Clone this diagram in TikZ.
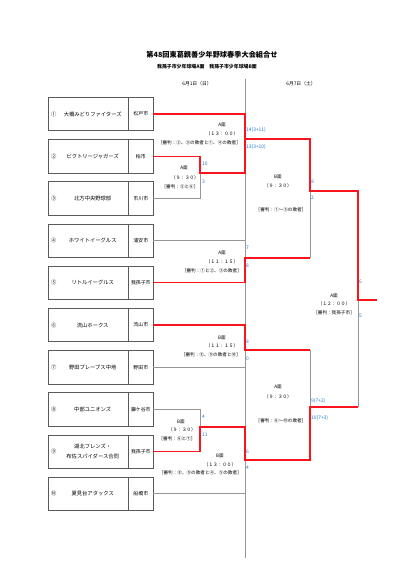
\documentclass[tikz,border=0pt]{standalone}
\usepackage{fontspec}
\setmainfont{Noto Sans CJK JP}
\usetikzlibrary{positioning, calc}

\definecolor{linegray}{RGB}{150,150,150}
\definecolor{winred}{RGB}{250,20,30}
\definecolor{scoreblue}{RGB}{30,120,210}

\tikzset{
    teambox/.style={
        rectangle,
        draw=black!65,
        line width=0.6pt,
        minimum width=105pt,
        minimum height=33.5pt,
        inner sep=0pt
    },
    teamname/.style={font=\fontsize{5.3}{9.5}\selectfont, align=center, inner sep=0pt},
    citytext/.style={font=\fontsize{4.9}{6}\selectfont, inner sep=0pt},
    gline/.style={draw=linegray, line width=0.8pt},
    rline/.style={draw=winred, line width=1.3pt},
    gamelabel/.style={font=\fontsize{4.6}{5}\selectfont, inner sep=0pt},
    score/.style={font=\fontsize{4.9}{5}\selectfont, text=scoreblue, anchor=west, inner sep=0pt}
}

\begin{document}
\begin{tikzpicture}[x=1pt, y=-1pt]
    \useasboundingbox (0,0) rectangle (401,568);

    % 見出し
    \node[font=\bfseries\fontsize{7.2}{8}\selectfont] (title) at (212,55) {第48回東葛親善少年野球春季大会組合せ};
    \node[font=\bfseries\fontsize{4.9}{6}\selectfont] (field) at (207,67) {我孫子市少年球場A面　我孫子市少年球場B面};
    \node[font=\fontsize{4.8}{6}\selectfont] (day1) at (197,84) {6月1日（日）};
    \node[font=\fontsize{4.8}{6}\selectfont] (day2) at (301,84) {6月7日（土）};

    % チーム
    \foreach \i/\mk/\name/\city in {
        1/①/大橋みどりファイターズ/松戸市,
        2/②/ビクトリージャガーズ/柏市,
        3/③/北方中央野球部/市川市,
        4/④/ホワイトイーグルス/浦安市,
        5/⑤/リトルイーグルス/我孫子市,
        6/⑥/流山ホークス/流山市,
        7/⑦/野田ブレーブス中地/野田市,
        8/⑧/中部ユニオンズ/鎌ケ谷市,
        9/⑨/湖北フレンズ・\\布佐スパイダース合同/我孫子市,
        10/⑩/夏見台アタックス/船橋市}{
        \node[teambox] (team\i) at (100.5,{114+42.2*(\i-1)}) {};
        \draw[draw=black!65, line width=0.6pt] ($(team\i.north east)+(-25,0)$) -- ($(team\i.south east)+(-25,0)$);
        \node[teamname] (mark\i) at ($(team\i.west)+(6,0)$) {\mk};
        \node[teamname] (name\i) at ($(team\i.west)+(45,0)$) {\name};
        \node[citytext] (city\i) at ($(team\i.east)+(-12.5,0)$) {\city};
    }

    % 日付の区切り
    \coordinate (sepTop) at (245,79);
    \coordinate (sepBot) at (245,558);
    \draw[gline] (sepTop) -- (sepBot);

    % 試合の分かれ目
    \coordinate (m1) at (200,173);
    \coordinate (m2) at (245,139);
    \coordinate (m3) at (245,258);
    \coordinate (m4) at (245,350);
    \coordinate (m5) at (200,427);
    \coordinate (m6) at (245,460);
    \coordinate (s1) at (310,191);
    \coordinate (s2) at (310,407);
    \coordinate (fin) at (358,300);
    \coordinate (champ) at (377,300);

    % 負け側
    \draw[gline] (team3.east) -| (m1);
    \draw[gline] (team4.east) -- (team4.east -| sepTop);
    \draw[gline] (team7.east) -- (team7.east -| m4);
    \draw[gline] (team8.east) -| (m5);
    \draw[gline] (team10.east) -- (team10.east -| m6);
    \draw[gline] (m3 -| s1) -- (s1);
    \draw[gline] (m4 -| s2) -- (s2);
    \draw[gline] (s2 -| fin) -- (fin);

    % 勝ち上がり
    \draw[rline] (team1.east) -| (m2) -- (m2 -| s1) -- (s1) -- (s1 -| fin) -- (fin) -- (champ);
    \draw[rline] (team2.east) -| (m1) -- (m1 -| m2) -- (m2);
    \draw[rline] (team5.east) -| (m3) -- (m3 -| s1);
    \draw[rline] (team6.east) -| (m4) -- (m4 -| s2);
    \draw[rline] (team9.east) -| (m5) -- (m5 -| m6) -- (m6) -- (m6 -| s2) -- (s2) -- (s2 -| fin);

    % 試合の案内
    \node[gamelabel] (g1a) at (184,168) {A面};
    \node[gamelabel] (g1b) at (185,178) {（９：３０）};
    \node[gamelabel] (g1c) at (180,187) {［審判：⑤と⑥］};

    \node[gamelabel] (g2a) at (222,125) {A面};
    \node[gamelabel] (g2b) at (222,134) {（１３：００）};
    \node[gamelabel, anchor=east] (g2c) at (241,143) {［審判：②、③の敗者と①、④の敗者］};

    \node[gamelabel] (g3a) at (222,253) {A面};
    \node[gamelabel] (g3b) at (222,262) {（１１：１５）};
    \node[gamelabel, anchor=east] (g3c) at (242,271) {［審判：①と②、③の敗者］};

    \node[gamelabel] (g4a) at (222,338) {B面};
    \node[gamelabel] (g4b) at (222,346) {（１１：１５）};
    \node[gamelabel, anchor=east] (g4c) at (241,355) {［審判：⑧、⑨の敗者と⑩］};

    \node[gamelabel] (g5a) at (181,422) {B面};
    \node[gamelabel] (g5b) at (182,430) {（９：３０）};
    \node[gamelabel] (g5c) at (177,439) {［審判：⑥と⑦］};

    \node[gamelabel] (g6a) at (220,456) {B面};
    \node[gamelabel] (g6b) at (220,465) {（１３：００）};
    \node[gamelabel, anchor=east] (g6c) at (242,473) {［審判：⑧、⑨の敗者と④、⑤の敗者］};

    \node[gamelabel] (s1a) at (278,177) {B面};
    \node[gamelabel] (s1b) at (278,186) {（９：３０）};
    \node[gamelabel] (s1c) at (281,210) {［審判：①～⑤の敗者］};

    \node[gamelabel] (s2a) at (278,387) {A面};
    \node[gamelabel] (s2b) at (278,397) {（９：３０）};
    \node[gamelabel] (s2c) at (281,421) {［審判：⑥～⑩の敗者］};

    \node[gamelabel] (fa) at (334,296) {A面};
    \node[gamelabel] (fb) at (334,304) {（１２：００）};
    \node[gamelabel] (fc) at (334,313) {［審判：我孫子市］};

    % 得点
    \node[score] (sc1) at (246,130) {14(3+11)};
    \node[score] (sc2) at (246,147) {13(3+10)};
    \node[score] (sc3) at (202,164) {10};
    \node[score] (sc4) at (202,182) {3};
    \node[score] (sc5) at (246,248) {7};
    \node[score] (sc6) at (246,266) {8};
    \node[score] (sc7) at (246,342) {8};
    \node[score] (sc8) at (246,359) {0};
    \node[score] (sc9) at (202,417) {4};
    \node[score] (sc10) at (202,435) {11};
    \node[score] (sc11) at (246,452) {6};
    \node[score] (sc12) at (246,468) {4};
    \node[score] (sc13) at (311,182) {8};
    \node[score] (sc14) at (311,198) {2};
    \node[score] (sc15) at (311,401) {9(7+2)};
    \node[score] (sc16) at (311,418) {10(7+3)};
    \node[score] (sc17) at (359,282) {6};
    \node[score] (sc18) at (359,316) {5};
\end{tikzpicture}
\end{document}
